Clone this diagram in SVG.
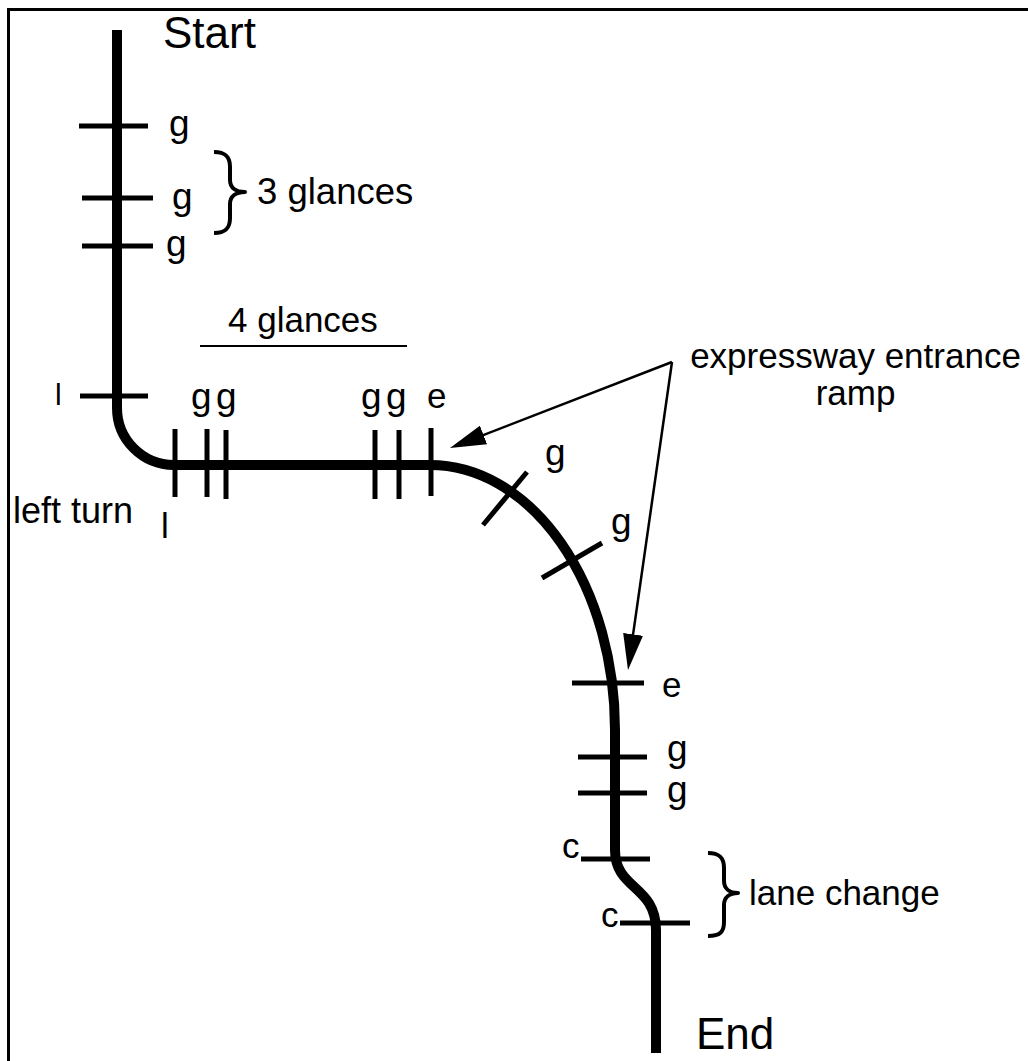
<svg xmlns="http://www.w3.org/2000/svg" width="1028" height="1061" viewBox="0 0 1028 1061">
  <style>
    .route { fill: none; stroke: #000; stroke-width: 10; stroke-linecap: butt; stroke-linejoin: round; }
    .tick { stroke: #000; stroke-width: 5; fill: none; }
    .brace { fill: none; stroke: #000; stroke-width: 4; stroke-linejoin: round; }
    .lbl { font-family: "Liberation Sans", Arial, Helvetica, sans-serif; font-size: 35px; fill: #000; }
    .mk { font-size: 37px; }
    .big { font-size: 44px; }
    .arrow { fill: none; stroke: #000; stroke-width: 2.5; }
  </style>
  <defs>
    <marker id="head" markerUnits="userSpaceOnUse" markerWidth="38" markerHeight="20" refX="26" refY="10" orient="auto">
      <path d="M0,0 L36,10 L0,20 Z" fill="#000"/>
    </marker>
  </defs>

  <rect width="1028" height="1061" fill="#fff"/>
  <!-- frame (top and left edges) -->
  <path d="M8.5,1061 V9.5 H1028" fill="none" stroke="#000" stroke-width="3"/>

  <!-- the driven route -->
  <g id="route">
    <path class="route" d="M117,30 V408 A57,57 0 0 0 174,465 H430 A185,265 0 0 1 615,730 V850 C615,890 656,885 656,930 V1053"/>
  </g>

  <!-- start segment: three glances -->
  <g id="start-glances">
    <text class="lbl big" x="163" y="48">Start</text>
    <line class="tick" x1="79" y1="126" x2="148" y2="126"/>
    <line class="tick" x1="82" y1="198" x2="153" y2="198"/>
    <line class="tick" x1="82" y1="246" x2="153" y2="246"/>
    <text class="lbl mk" x="169" y="136">g</text>
    <text class="lbl mk" x="172" y="209">g</text>
    <text class="lbl mk" x="166" y="256">g</text>
    <path class="brace" d="M214,152 C226,152 230,157 230,167 L230,180 C230,188 236,192 245,192 C236,192 230,196 230,204 L230,218 C230,228 226,233 214,233"/>
    <text class="lbl" x="257" y="204" style="font-size:36.5px">3 glances</text>
  </g>

  <!-- left turn -->
  <g id="left-turn">
    <line class="tick" x1="80" y1="396" x2="148" y2="396"/>
    <text class="lbl" x="55" y="405" style="font-size:30px">l</text>
    <line class="tick" x1="175" y1="429" x2="175" y2="497"/>
    <text class="lbl" x="161" y="538">l</text>
    <text class="lbl" x="13" y="523" style="font-size:36px">left turn</text>
  </g>

  <!-- straight segment: four glances -->
  <g id="four-glances">
    <text class="lbl" x="228" y="332">4 glances</text>
    <line x1="200" y1="346" x2="407" y2="346" stroke="#000" stroke-width="2"/>
    <line class="tick" x1="207" y1="429" x2="207" y2="497"/>
    <line class="tick" x1="226" y1="430" x2="226" y2="499"/>
    <line class="tick" x1="375" y1="430" x2="375" y2="499"/>
    <line class="tick" x1="399" y1="430" x2="399" y2="499"/>
    <text class="lbl mk" x="191" y="409">g</text>
    <text class="lbl mk" x="216" y="409">g</text>
    <text class="lbl mk" x="361" y="409">g</text>
    <text class="lbl mk" x="386" y="409">g</text>
  </g>

  <!-- ramp start -->
  <g id="ramp-entry">
    <line class="tick" x1="431" y1="428" x2="431" y2="496"/>
    <text class="lbl" x="427" y="408">e</text>
  </g>

  <!-- ramp curve glances -->
  <g id="ramp-glances">
    <line class="tick" x1="483" y1="525" x2="527" y2="472"/>
    <line class="tick" x1="542" y1="578" x2="602" y2="543"/>
    <text class="lbl mk" x="545" y="465">g</text>
    <text class="lbl mk" x="611" y="534">g</text>
  </g>

  <!-- ramp end and expressway glances -->
  <g id="ramp-exit">
    <line class="tick" x1="572" y1="683" x2="644" y2="683"/>
    <text class="lbl" x="662" y="697">e</text>
    <line class="tick" x1="578" y1="757" x2="647" y2="757"/>
    <line class="tick" x1="578" y1="793" x2="647" y2="793"/>
    <text class="lbl mk" x="667" y="761">g</text>
    <text class="lbl mk" x="667" y="802">g</text>
  </g>

  <!-- lane change -->
  <g id="lane-change">
    <line class="tick" x1="581" y1="859" x2="650" y2="859"/>
    <line class="tick" x1="620" y1="923" x2="690" y2="923"/>
    <text class="lbl" x="562" y="858">c</text>
    <text class="lbl" x="601" y="927">c</text>
    <path class="brace" d="M708,853 C720,853 724,858 724,868 L724,881 C724,889 730,893 738,893 C730,893 724,897 724,905 L724,922 C724,932 720,936 708,936"/>
    <text class="lbl" x="749" y="905">lane change</text>
    <text class="lbl big" x="696" y="1049">End</text>
  </g>

  <!-- callout label -->
  <g id="ramp-label">
    <text class="lbl" x="855.5" y="368" text-anchor="middle">expressway entrance</text>
    <text class="lbl" x="855.5" y="405" text-anchor="middle">ramp</text>
  </g>

  <!-- callout arrows -->
  <g id="connectors">
    <line class="arrow" x1="672" y1="362" x2="459.3" y2="444.4" marker-end="url(#head)"/>
    <line class="arrow" x1="672" y1="362" x2="629.4" y2="660.1" marker-end="url(#head)"/>
  </g>
</svg>
